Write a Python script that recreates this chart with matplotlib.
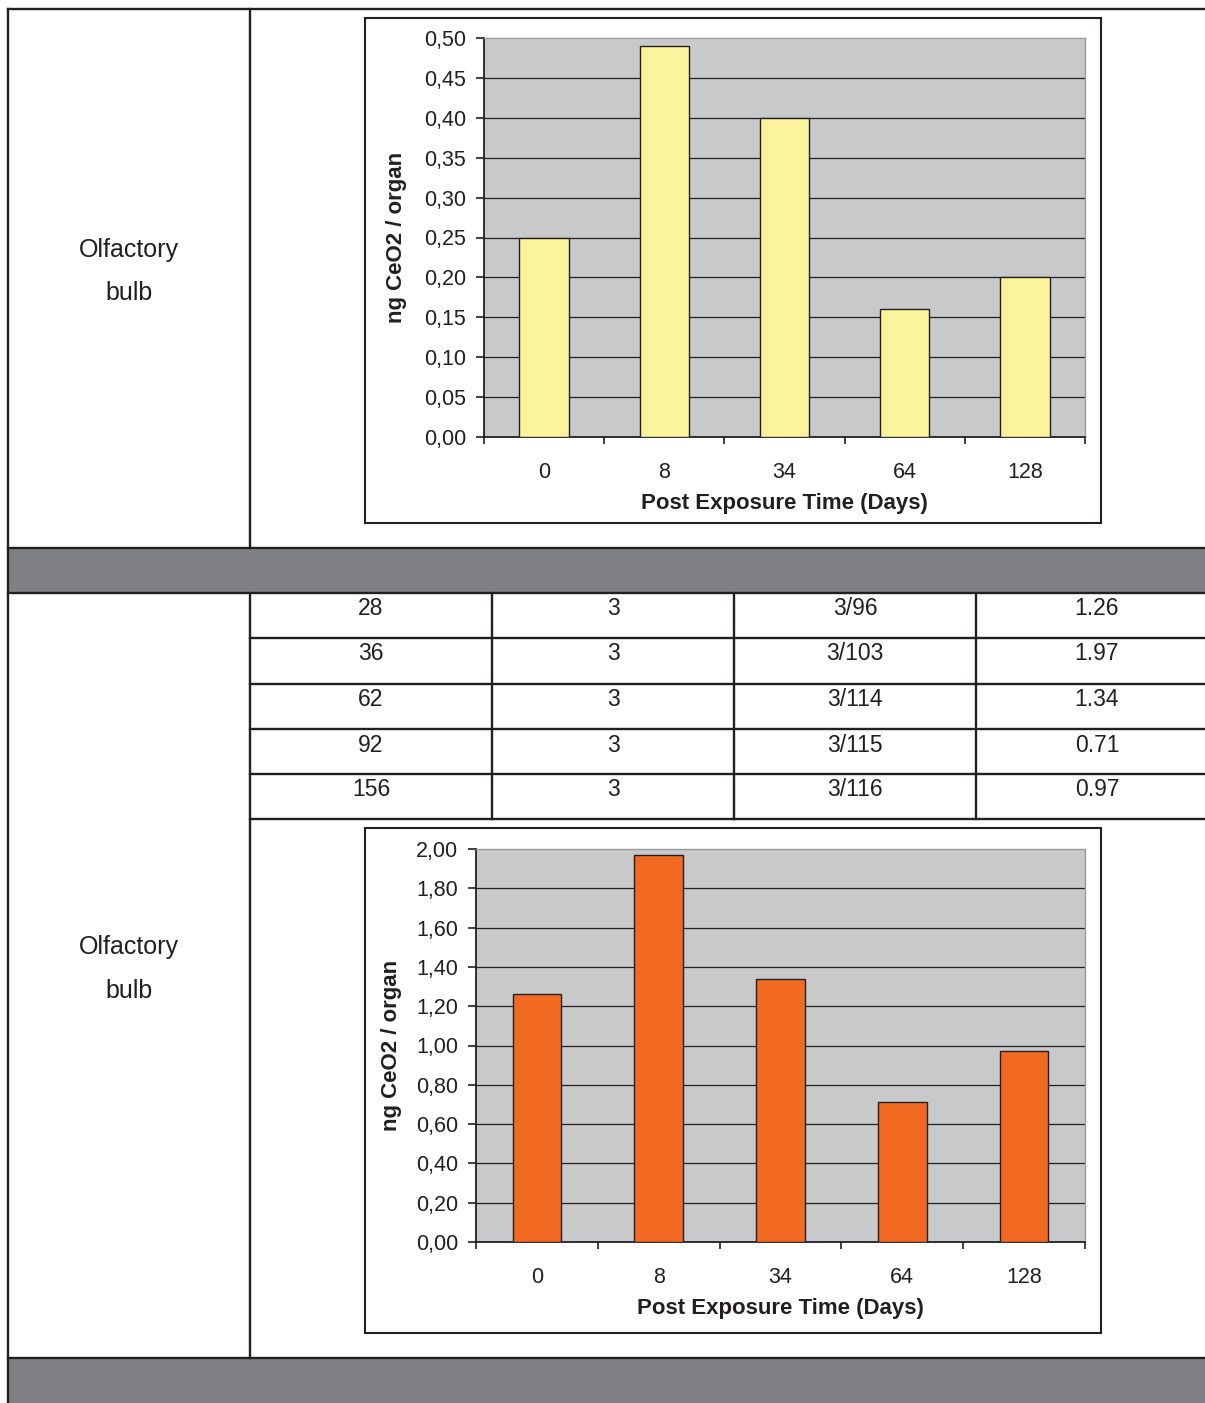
import matplotlib
matplotlib.use("Agg")
import matplotlib.pyplot as plt
from matplotlib.patches import Rectangle
from matplotlib.lines import Line2D
from matplotlib.ticker import FuncFormatter, FixedLocator

plt.rcParams['font.family'] = ['Liberation Sans', 'DejaVu Sans']

W, H = 1205, 1403
INK = '#231f20'
BAND = '#808184'
PLOT_BG = '#c8c9cb'

days = ['0', '8', '34', '64', '128']
bulb_values_top = [0.25, 0.49, 0.40, 0.16, 0.20]

row_days = ['28', '36', '62', '92', '156']
row_n = ['3', '3', '3', '3', '3']
row_ids = ['3/96', '3/103', '3/114', '3/115', '3/116']
row_values = [1.26, 1.97, 1.34, 0.71, 0.97]

fig = plt.figure(figsize=(W / 100, H / 100), dpi=100)
fig.patch.set_facecolor('white')


def fx(x):
    return x / W


def fy(y):
    return 1 - y / H


def hline(y, x0, x1, lw=1.7):
    fig.add_artist(Line2D([fx(x0), fx(x1)], [fy(y), fy(y)], color=INK, lw=lw))


def vline(x, y0, y1, lw=1.7):
    fig.add_artist(Line2D([fx(x), fx(x)], [fy(y0), fy(y1)], color=INK, lw=lw))


def band(y0, y1):
    fig.add_artist(Rectangle((fx(8), fy(y1)), fx(W) - fx(8), fy(y0) - fy(y1),
                             facecolor=BAND, edgecolor='none', zorder=0))
    hline(y0, 8, W)
    hline(y1, 8, W)


def frame(x0, y0, x1, y1):
    fig.add_artist(Rectangle((fx(x0), fy(y1)), fx(x1) - fx(x0), fy(y0) - fy(y1),
                             facecolor='none', edgecolor=INK, lw=1.5))


def comma(v, pos):
    return f'{v:.2f}'.replace('.', ',')


def bar_chart(box, values, ymax, step, color, width):
    x0, y0, x1, y1 = box
    ax = fig.add_axes([fx(x0), fy(y1), fx(x1) - fx(x0), fy(y0) - fy(y1)])
    ax.set_facecolor(PLOT_BG)
    ax.set_axisbelow(True)
    ax.bar(range(len(values)), values, width=width, color=color,
           edgecolor=INK, linewidth=1.0, zorder=3)
    ax.set_xlim(-0.5, len(values) - 0.5)
    ax.set_ylim(0, ymax)
    n = int(round(ymax / step))
    ax.set_yticks([i * step for i in range(n + 1)])
    ax.yaxis.set_major_formatter(FuncFormatter(comma))
    ax.yaxis.grid(True, color=INK, lw=0.9)
    ax.get_ygridlines()[-1].set_visible(False)
    ax.get_ygridlines()[0].set_visible(False)

    ax.set_xticks(range(len(values)))
    ax.set_xticklabels(days)
    ax.xaxis.set_minor_locator(FixedLocator([i - 0.5 for i in range(len(values) + 1)]))
    ax.tick_params(axis='x', which='major', length=0, pad=18, labelsize=15.5, labelcolor=INK)
    ax.tick_params(axis='x', which='minor', length=5, width=1.2, color=INK, direction='out')
    ax.tick_params(axis='y', length=6, width=1.2, color=INK, direction='out', pad=7,
                   labelsize=15.5, labelcolor=INK)

    for side in ('left', 'bottom'):
        ax.spines[side].set_color(INK)
        ax.spines[side].set_linewidth(1.3)
    for side in ('top', 'right'):
        ax.spines[side].set_color('#9a9b9d')
        ax.spines[side].set_linewidth(1.0)

    ax.set_xlabel('Post Exposure Time (Days)', fontsize=16, fontweight='bold', color=INK)
    ax.set_ylabel('ng CeO2 / organ', fontsize=16, fontweight='bold', color=INK)
    return ax


# table grid
hline(9, 8, W)
vline(8, 9, H)
vline(250, 9, 548)
vline(250, 593, 1358)
band(548, 593)
band(1358, H + 5)

row_lines = [593, 638, 684, 729, 774, 819]
for y in row_lines[1:]:
    hline(y, 250, W)
for x in (492, 734, 976):
    vline(x, 593, 819)

col_centers = [371, 613, 855, 1097]
for i in range(len(row_days)):
    yc = row_lines[i] + 16
    cells = [row_days[i], row_n[i], row_ids[i], f'{row_values[i]:.2f}']
    for cx, txt in zip(col_centers, cells):
        fig.text(fx(cx), fy(yc), txt, ha='center', va='center', fontsize=16.5, color=INK)

for y_top, y_bot in ((250, 293), (947, 991)):
    fig.text(fx(129), fy(y_top), 'Olfactory', ha='center', va='center', fontsize=18, color=INK)
    fig.text(fx(129), fy(y_bot), 'bulb', ha='center', va='center', fontsize=18, color=INK)

# charts
frame(365, 18, 1101, 523)
ax1 = bar_chart((484, 38, 1085, 437), bulb_values_top, 0.5, 0.05, '#fbf49c', 0.41)
ax1.xaxis.set_label_coords(0.5, -0.14)
ax1.yaxis.set_label_coords(-0.128, 0.5)

frame(365, 828, 1101, 1333)
ax2 = bar_chart((476, 849, 1085, 1242), row_values, 2.0, 0.2, '#f26922', 0.40)
ax2.xaxis.set_label_coords(0.5, -0.143)
ax2.yaxis.set_label_coords(-0.122, 0.5)

fig.savefig('out.png', dpi=100, facecolor='white')
